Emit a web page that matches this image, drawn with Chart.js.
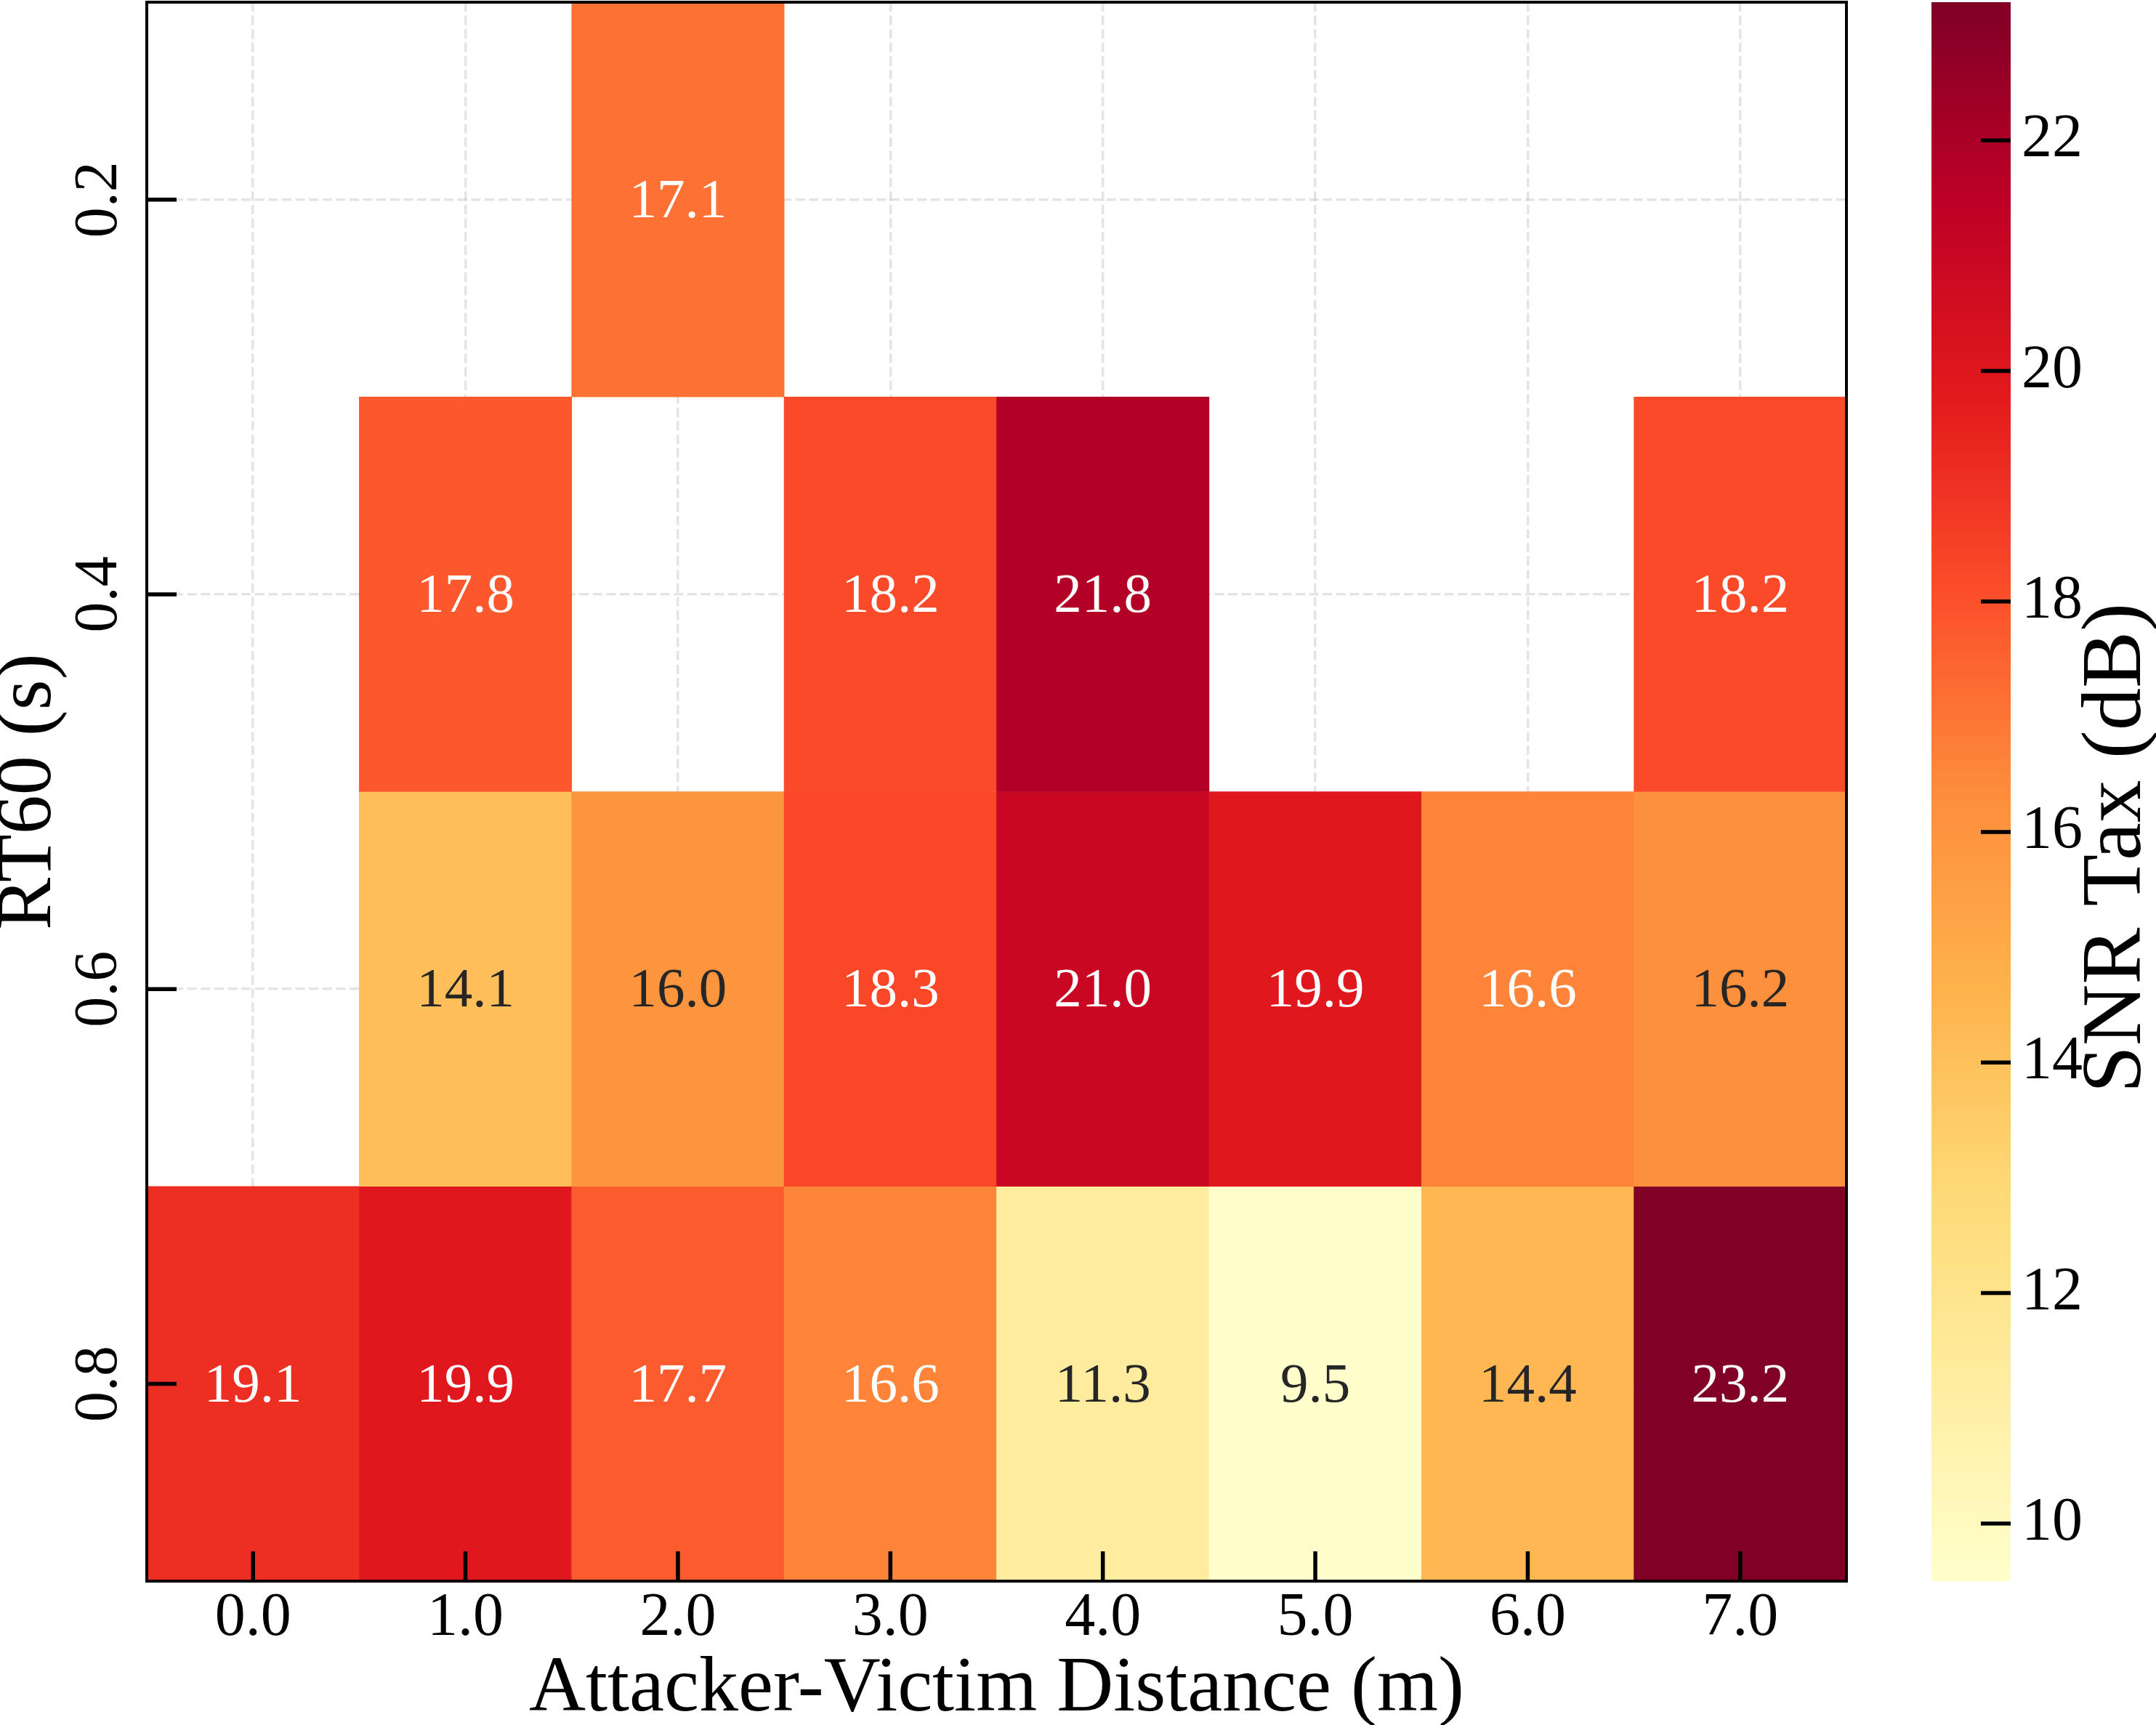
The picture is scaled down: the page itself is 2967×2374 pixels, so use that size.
<!DOCTYPE html>
<html>
<head>
<meta charset="utf-8">
<script src="https://cdn.jsdelivr.net/npm/chart.js@4.4.1/dist/chart.umd.min.js"></script>
<style>
    html, body { margin: 0; padding: 0; background: #ffffff; }
    #quadro { position: relative; width: 2967px; height: 2374px; }
    #grafico { position: absolute; left: 0; top: 0; }
    #grafico_barra { position: absolute; left: 2600px; top: 0; }
</style>
</head>
<body>
<div id="quadro">
    <canvas id="grafico" width="2600" height="2374"></canvas>
    <canvas id="grafico_barra" width="367" height="2374"></canvas>
</div>
<script>

// distancias (eixo x) e RT60 (eixo y, de cima para baixo)
var distancias = ['0.0', '1.0', '2.0', '3.0', '4.0', '5.0', '6.0', '7.0'];
var rt60 = ['0.2', '0.4', '0.6', '0.8'];

// SNR Tax (dB) por linha de RT60, null = sem medida
var snr_02 = [null, null, 17.1, null, null, null, null, null];
var snr_04 = [null, 17.8, null, 18.2, 21.8, null, null, 18.2];
var snr_06 = [null, 14.1, 16.0, 18.3, 21.0, 19.9, 16.6, 16.2];
var snr_08 = [19.1, 19.9, 17.7, 16.6, 11.3, 9.5, 14.4, 23.2];

var ticksBarra = [10, 12, 14, 16, 18, 20, 22];

var linhas = [snr_02, snr_04, snr_06, snr_08];

// YlOrRd
var coresMapa = ['#ffffcc', '#ffeda0', '#fed976', '#feb24c', '#fd8d3c', '#fc4e2a', '#e31a1c', '#bd0026', '#800026'];

var fonte = "'Liberation Serif', 'Times New Roman', serif";
Chart.defaults.font.family = fonte;
Chart.defaults.color = '#000000';

var valores = linhas.flat().filter(function (v) { return v !== null; });
var vmin = Math.min.apply(null, valores);
var vmax = Math.max.apply(null, valores);

function hexRgb(h) {
    return [parseInt(h.substr(1, 2), 16), parseInt(h.substr(3, 2), 16), parseInt(h.substr(5, 2), 16)];
}

function rgbMapa(v) {
    var t = Math.min(1, Math.max(0, (v - vmin) / (vmax - vmin)));
    var pos = t * (coresMapa.length - 1);
    var k = Math.min(Math.floor(pos), coresMapa.length - 2);
    var f = pos - k;
    var a = hexRgb(coresMapa[k]);
    var b = hexRgb(coresMapa[k + 1]);
    return [0, 1, 2].map(function (c) { return Math.round(a[c] + (b[c] - a[c]) * f); });
}

function corMapa(v) {
    var c = rgbMapa(v);
    return 'rgb(' + c[0] + ',' + c[1] + ',' + c[2] + ')';
}

// texto escuro em celulas claras, branco nas escuras
function corTexto(v) {
    var c = rgbMapa(v).map(function (x) {
        x = x / 255;
        return x <= 0.03928 ? x / 12.92 : Math.pow((x + 0.055) / 1.055, 2.4);
    });
    var lum = 0.2126 * c[0] + 0.7152 * c[1] + 0.0722 * c[2];
    return lum > 0.408 ? '#262626' : '#ffffff';
}

var corGrade = 'rgba(190, 190, 190, 0.42)';

const rotulosCelulas = {
    id: 'rotulosCelulas',
    afterDatasetsDraw(chart) {
        const ctx = chart.ctx;
        ctx.save();
        ctx.font = '77px ' + fonte;
        ctx.textAlign = 'center';
        ctx.textBaseline = 'middle';
        chart.data.datasets.forEach(function (ds, i) {
            const meta = chart.getDatasetMeta(i);
            meta.data.forEach(function (barra, j) {
                const v = linhas[i][j];
                if (v === null) return;
                const p = barra.getCenterPoint();
                ctx.fillStyle = corTexto(v);
                ctx.fillText(v.toFixed(1), p.x, p.y + 4);
            });
        });
        ctx.restore();
    }
};

// ticks para dentro, como no matplotlib
const ticksDentro = {
    id: 'ticksDentro',
    afterDraw(chart, args, opts) {
        const ctx = chart.ctx;
        const area = chart.chartArea;
        ctx.save();
        ctx.strokeStyle = '#000000';
        ctx.lineWidth = 5.5;
        Object.values(chart.scales).forEach(function (s) {
            if (s.options.display === false) return;
            s.ticks.forEach(function (t, k) {
                const px = s.getPixelForTick(k);
                ctx.beginPath();
                if (s.position === 'bottom') {
                    ctx.moveTo(px, area.bottom);
                    ctx.lineTo(px, area.bottom - 41);
                } else if (s.position === 'left') {
                    ctx.moveTo(area.left, px);
                    ctx.lineTo(area.left + 41, px);
                } else if (s.position === 'right') {
                    ctx.moveTo(area.right, px);
                    ctx.lineTo(area.right - 41, px);
                }
                ctx.stroke();
            });
        });
        if (opts.moldura) {
            ctx.lineWidth = 4;
            ctx.strokeRect(area.left, area.top, area.right - area.left, area.bottom - area.top);
        }
        ctx.restore();
    }
};

const tituloBarra = {
    id: 'tituloBarra',
    afterDraw(chart) {
        const ctx = chart.ctx;
        ctx.save();
        ctx.translate(314, 1167);
        ctx.rotate(-Math.PI / 2);
        ctx.font = '117px ' + fonte;
        ctx.fillStyle = '#000000';
        ctx.textAlign = 'center';
        ctx.textBaseline = 'middle';
        ctx.fillText('SNR Tax (dB)', 0, 0);
        ctx.restore();
    }
};

const data = {
    labels: distancias,
    datasets: linhas.map(function (linha, i) {
        return {
            label: 'RT60 ' + rt60[i],
            data: linha.map(function (v) { return v === null ? null : [i - 0.5, i + 0.5]; }),
            backgroundColor: linha.map(function (v) { return v === null ? 'rgba(0,0,0,0)' : corMapa(v); }),
            borderWidth: 0,
            barPercentage: 1,
            categoryPercentage: 1,
            grouped: false
        };
    })
};

const config = {
    type: 'bar',
    data: data,
    options: {
        responsive: false,
        animation: false,
        layout: { padding: { left: 0, top: 3, right: 59, bottom: 0 } },
        plugins: {
            legend: { display: false },
            tooltip: { enabled: false },
            ticksDentro: { moldura: true }
        },
        scales: {
            x: {
                type: 'category',
                offset: true,
                z: 1,
                afterFit: function (s) {
                    s.height = 198;
                    s.paddingLeft = 0;
                    s.paddingRight = 0;
                },
                ticks: { color: '#000000', padding: 10, font: { size: 84, lineHeight: 1 }, maxRotation: 0 },
                grid: { offset: false, color: corGrade, lineWidth: 3.5, drawTicks: false },
                border: { display: false, dash: [13, 5.6] },
                title: {
                    display: true,
                    text: 'Attacker-Victim Distance (m)',
                    color: '#000000',
                    font: { size: 108, lineHeight: 0.85 },
                    padding: { top: 0, bottom: 2 }
                }
            },
            y: {
                type: 'linear',
                min: -0.5,
                max: 3.5,
                reverse: true,
                z: 1,
                afterBuildTicks: function (s) {
                    s.ticks = rt60.map(function (r, i) { return { value: i }; });
                },
                afterFit: function (s) {
                    s.width = 202;
                    s.paddingTop = 0;
                    s.paddingBottom = 0;
                },
                ticks: {
                    color: '#000000',
                    callback: function (v) { return rt60[v]; },
                    minRotation: 90,
                    maxRotation: 90,
                    crossAlign: 'center',
                    padding: 12,
                    font: { size: 84, lineHeight: 1 }
                },
                grid: { color: corGrade, lineWidth: 3.5, drawTicks: false },
                border: { display: false, dash: [13, 5.6] },
                title: {
                    display: true,
                    text: 'RT60 (s)',
                    color: '#000000',
                    font: { size: 108, lineHeight: 0.6 },
                    padding: { top: 8, bottom: 0 }
                }
            }
        }
    },
    plugins: [rotulosCelulas, ticksDentro]
};

const data2 = {
    labels: ['SNR Tax (dB)'],
    datasets: [{
        label: 'SNR Tax (dB)',
        data: [[vmin, vmax]],
        backgroundColor: function (context) {
            const chart = context.chart;
            const area = chart.chartArea;
            if (!area) return null;
            const g = chart.ctx.createLinearGradient(0, area.bottom, 0, area.top);
            coresMapa.forEach(function (c, k) { g.addColorStop(k / (coresMapa.length - 1), c); });
            return g;
        },
        borderWidth: 0,
        barPercentage: 1,
        categoryPercentage: 1
    }]
};

const config2 = {
    type: 'bar',
    data: data2,
    options: {
        responsive: false,
        animation: false,
        layout: { padding: { left: 58, top: 3, right: 0, bottom: 198 } },
        plugins: {
            legend: { display: false },
            tooltip: { enabled: false },
            ticksDentro: { moldura: false }
        },
        scales: {
            x: { display: false, offset: true },
            y: {
                position: 'right',
                min: vmin,
                max: vmax,
                afterBuildTicks: function (s) {
                    s.ticks = ticksBarra.map(function (v) { return { value: v }; });
                },
                afterFit: function (s) {
                    s.width = 200;
                    s.paddingTop = 0;
                    s.paddingBottom = 0;
                },
                ticks: { color: '#000000', padding: 15, font: { size: 84, lineHeight: 1 } },
                grid: { display: false, drawTicks: false },
                border: { display: false }
            }
        }
    },
    plugins: [ticksDentro, tituloBarra]
};

const mapa = new Chart(document.getElementById('grafico'), config);
const barra = new Chart(document.getElementById('grafico_barra'), config2);

</script>
</body>
</html>
